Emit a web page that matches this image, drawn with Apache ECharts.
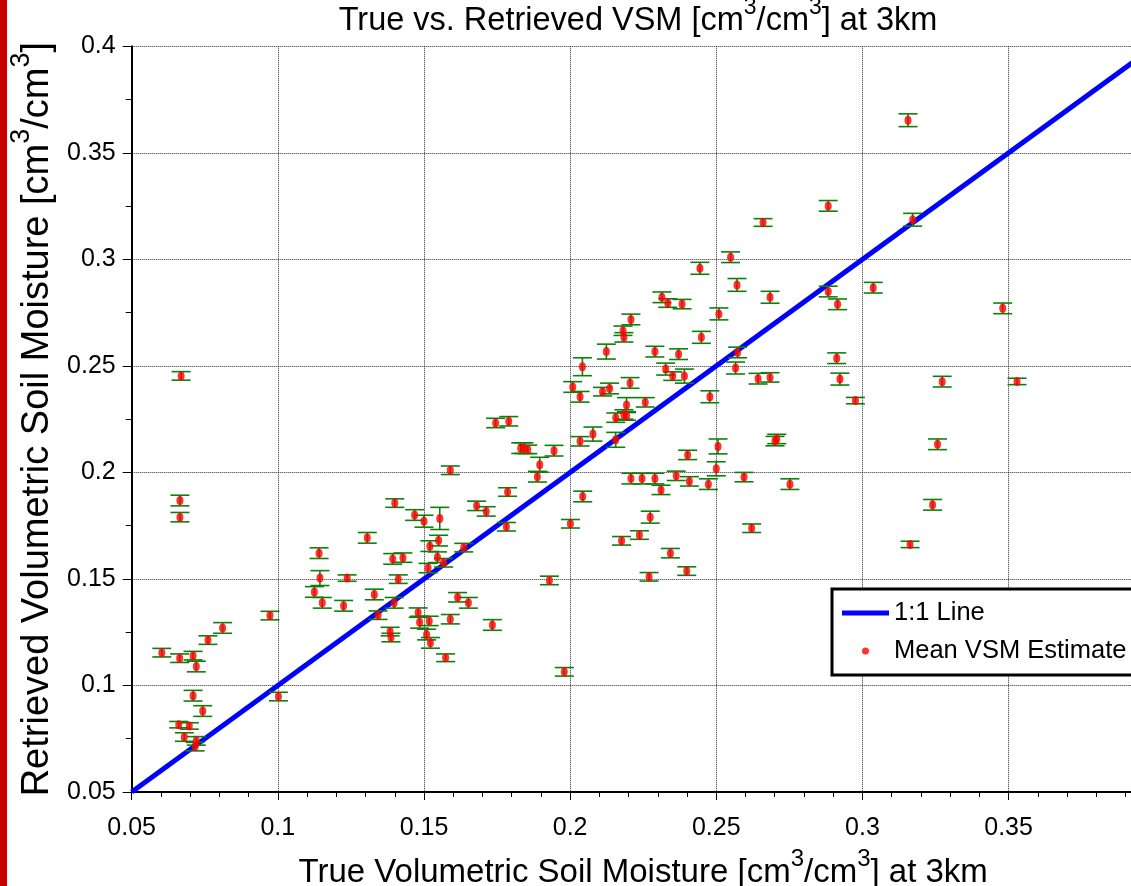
<!DOCTYPE html>
<html>
<head>
<meta charset="utf-8">
<script src="https://cdn.jsdelivr.net/npm/echarts@6/dist/echarts.min.js"></script>
<style>
  html, body { margin: 0; padding: 0; background: #fff; overflow: hidden; }
  #chart { width: 1131px; height: 886px; }
</style>
</head>
<body>
<div id="chart"></div>
<script>
// ---- data ----
const trueVSM = [
  0.0669, 0.0665, 0.0665, 0.0603, 0.0664, 0.0710, 0.0721, 0.0761, 0.0811, 0.0973,
  0.0710, 0.0743, 0.0661, 0.0697, 0.0680, 0.0721, 0.0717, 0.1002, 0.1141, 0.1144,
  0.1237, 0.1125, 0.1152, 0.1225, 0.1306, 0.1330, 0.1343, 0.1393, 0.1428, 0.1398,
  0.1412, 0.1384, 0.1387, 0.1400, 0.1468, 0.1500, 0.1554, 0.1520, 0.1550, 0.1546,
  0.1514, 0.1567, 0.1636, 0.1615, 0.1652, 0.1480, 0.1485, 0.1518, 0.1509, 0.1522,
  0.1574, 0.1590, 0.1734, 0.1590, 0.1680, 0.1713, 0.1745, 0.1790, 0.1786, 0.1782,
  0.1831, 0.1842, 0.1855, 0.1945, 0.1896, 0.1888, 0.1929, 0.1980, 0.2009, 0.2034,
  0.2111, 0.2135, 0.2205, 0.2193, 0.2257, 0.2156, 0.2184, 0.2193, 0.2034, 0.2078,
  0.2156, 0.2506, 0.2402, 0.2707, 0.2701, 0.2500, 0.2208, 0.2246, 0.2290, 0.2363,
  0.2408, 0.2473, 0.2311, 0.2595, 0.2752, 0.2043, 0.2001, 0.2274, 0.2237, 0.2176,
  0.2343, 0.2621, 0.2270, 0.2399, 0.2660, 0.2549, 0.2444, 0.2571, 0.2684, 0.2314,
  0.2334, 0.2383, 0.2509, 0.2208, 0.2181, 0.2184, 0.2449, 0.2124, 0.2290, 0.2371,
  0.2042, 0.2573, 0.2566, 0.2327, 0.2351, 0.2391, 0.2643, 0.2684, 0.2478, 0.3156,
  0.2883, 0.3172, 0.2883, 0.2915, 0.3037, 0.3480, 0.2912, 0.2923, 0.2976, 0.3273,
  0.3529, 0.3257, 0.3240, 0.3163
];
const retrievedVSM = [
  0.2453, 0.1868, 0.1790, 0.1154, 0.1128, 0.1140, 0.1089, 0.1213, 0.1270, 0.1328,
  0.0952, 0.0880, 0.0816, 0.0810, 0.0758, 0.0740, 0.0713, 0.0948, 0.1621, 0.1504,
  0.1504, 0.1439, 0.1388, 0.1374, 0.1693, 0.1427, 0.1330, 0.1594, 0.1600, 0.1388,
  0.1499, 0.1253, 0.1225, 0.1856, 0.1800, 0.1771, 0.1784, 0.1654, 0.1680, 0.1602,
  0.1551, 0.1576, 0.1647, 0.1414, 0.1388, 0.1342, 0.1297, 0.1303, 0.1239, 0.1200,
  0.1130, 0.1311, 0.1284, 0.2010, 0.1843, 0.1817, 0.2232, 0.2240, 0.1908, 0.1745,
  0.2114, 0.2114, 0.2108, 0.2102, 0.2036, 0.1980, 0.1493, 0.1064, 0.2401, 0.2355,
  0.2379, 0.2394, 0.2420, 0.2316, 0.2329, 0.2257, 0.2272, 0.2265, 0.2146, 0.2180,
  0.2153, 0.2122, 0.2082, 0.2157, 0.2147, 0.2017, 0.1971, 0.1971, 0.1971, 0.1984,
  0.1958, 0.1945, 0.1918, 0.1978, 0.1945, 0.1887, 0.1759, 0.1790, 0.1706, 0.1679,
  0.1621, 0.1738, 0.1510, 0.1537, 0.3173, 0.3010, 0.2958, 0.2880, 0.2822, 0.2822,
  0.2795, 0.2790, 0.2744, 0.2718, 0.2665, 0.2634, 0.2634, 0.2567, 0.2567, 0.2555,
  0.2496, 0.2563, 0.2490, 0.2485, 0.2452, 0.2452, 0.2440, 0.2446, 0.2355, 0.3653,
  0.3251, 0.3186, 0.2849, 0.2789, 0.2867, 0.2770, 0.2536, 0.2438, 0.2337, 0.2426,
  0.2427, 0.2132, 0.1848, 0.1662
];
const errorHalf = [
  0.0020, 0.0025, 0.0022, 0.0020, 0.0020, 0.0020, 0.0025, 0.0020, 0.0025, 0.0020,
  0.0025, 0.0025, 0.0015, 0.0015, 0.0020, 0.0020, 0.0020, 0.0020, 0.0025, 0.0035,
  0.0015, 0.0025, 0.0025, 0.0025, 0.0025, 0.0025, 0.0020, 0.0025, 0.0022, 0.0025,
  0.0020, 0.0020, 0.0020, 0.0020, 0.0025, 0.0028, 0.0052, 0.0025, 0.0025, 0.0025,
  0.0022, 0.0020, 0.0020, 0.0022, 0.0025, 0.0022, 0.0028, 0.0022, 0.0025, 0.0025,
  0.0018, 0.0022, 0.0025, 0.0020, 0.0022, 0.0022, 0.0022, 0.0022, 0.0020, 0.0020,
  0.0025, 0.0025, 0.0020, 0.0025, 0.0035, 0.0025, 0.0020, 0.0020, 0.0025, 0.0025,
  0.0020, 0.0025, 0.0025, 0.0035, 0.0022, 0.0022, 0.0022, 0.0020, 0.0022, 0.0033,
  0.0035, 0.0035, 0.0022, 0.0022, 0.0022, 0.0033, 0.0025, 0.0025, 0.0025, 0.0022,
  0.0022, 0.0025, 0.0022, 0.0022, 0.0025, 0.0025, 0.0020, 0.0028, 0.0020, 0.0020,
  0.0022, 0.0020, 0.0020, 0.0020, 0.0018, 0.0025, 0.0028, 0.0030, 0.0028, 0.0025,
  0.0020, 0.0022, 0.0028, 0.0025, 0.0022, 0.0022, 0.0028, 0.0035, 0.0025, 0.0025,
  0.0042, 0.0025, 0.0028, 0.0028, 0.0020, 0.0033, 0.0025, 0.0022, 0.0028, 0.0030,
  0.0025, 0.0030, 0.0025, 0.0025, 0.0025, 0.0025, 0.0025, 0.0028, 0.0015, 0.0025,
  0.0015, 0.0025, 0.0025, 0.0015
];
const oneToOneX = [0.05, 0.40];
const xTickValues = [0.05, 0.1, 0.15, 0.2, 0.25, 0.3, 0.35];
const yTickValues = [0.05, 0.1, 0.15, 0.2, 0.25, 0.3, 0.35, 0.4];
const seriesNames = ['1:1 Line', 'Mean VSM Estimate'];

// ---- build ----
const FONT = '"Liberation Sans", Arial, Helvetica, sans-serif';

const pointData = trueVSM.map((x, i) => [x, retrievedVSM[i]]);
const errData = trueVSM.map((x, i) => [x, retrievedVSM[i], errorHalf[i]]);
const lineData = oneToOneX.map(v => [v, v]);

function fmtTick(v) {
  return String(Math.round(v * 100) / 100);
}

const chart = echarts.init(document.getElementById('chart'), null, { renderer: 'canvas' });

const supRich = (fs, supFs, lh) => ({
  n: { fontSize: fs, lineHeight: lh, verticalAlign: 'bottom', fontFamily: FONT, fontWeight: 'normal', color: '#000' },
  s: { fontSize: supFs, lineHeight: supFs, verticalAlign: 'top', fontFamily: FONT, fontWeight: 'normal', color: '#000' }
});

const option = {
  animation: false,
  backgroundColor: '#fff',
  title: {
    text: '{n|True vs. Retrieved VSM [cm}{s|3}{n|/cm}{s|3}{n|] at 3km}',
    left: 638,
    top: -4,
    padding: 0,
    textAlign: 'center',
    textStyle: { fontWeight: 'normal', rich: supRich(32.5, 23, 42) }
  },
  legend: {
    data: [
      { name: seriesNames[0], icon: 'path://M0,0 L47,0 L47,5 L0,5 Z' },
      { name: seriesNames[1], icon: 'circle' }
    ],
    orient: 'vertical',
    left: 832,
    top: 589,
    padding: [9, 60, 9, 10],
    itemGap: 8,
    itemWidth: 47,
    itemHeight: 7,
    borderColor: '#000',
    borderWidth: 3,
    borderRadius: 0,
    backgroundColor: '#fff',
    textStyle: { fontFamily: FONT, fontSize: 25.5, lineHeight: 30, color: '#000' },
    z: 10
  },
  grid: {
    left: 131.7,
    top: 46.3,
    width: 1023,
    bottom: 94,
    containLabel: false,
    outerBoundsMode: 'none',
    show: false
  },
  xAxis: {
    type: 'value',
    min: xTickValues[0],
    max: oneToOneX[1],
    interval: 0.05,
    name: '{n|True Volumetric Soil Moisture [cm}{s|3}{n|/cm}{s|3}{n|] at 3km}',
    nameLocation: 'middle',
    nameGap: 55,
    nameTextStyle: { rich: supRich(33, 24, 42) },
    axisLine: { show: true, onZero: false, lineStyle: { color: '#000', width: 2 } },
    axisTick: { show: true, inside: false, length: 8, lineStyle: { color: '#000', width: 1 } },
    minorTick: { show: true, splitNumber: 5, length: 5, lineStyle: { color: '#000', width: 1 } },
    axisLabel: {
      margin: 24, fontFamily: FONT, fontSize: 25, color: '#000',
      formatter: v => (xTickValues.some(t => Math.abs(t - v) < 1e-6) ? fmtTick(v) : '')
    },
    splitLine: { show: true, lineStyle: { color: '#2a2a2a', width: 1, type: [1, 1] } }
  },
  yAxis: {
    type: 'value',
    min: yTickValues[0],
    max: yTickValues[yTickValues.length - 1],
    interval: 0.05,
    name: '{n|Retrieved Volumetric Soil Moisture [cm}{s|3}{n|/cm}{s|3}{n|]}',
    nameLocation: 'middle',
    nameGap: 58,
    nameRotate: 90,
    nameTextStyle: { rich: supRich(38, 27, 48) },
    axisLine: { show: true, onZero: false, lineStyle: { color: '#000', width: 2 } },
    axisTick: { show: true, inside: false, length: 9, lineStyle: { color: '#000', width: 1 } },
    minorTick: { show: true, splitNumber: 2, length: 6, lineStyle: { color: '#000', width: 1 } },
    axisLabel: { margin: 16, fontFamily: FONT, fontSize: 25, color: '#000', formatter: v => fmtTick(v) },
    splitLine: { show: true, lineStyle: { color: '#2a2a2a', width: 1, type: [1, 1] } }
  },
  graphic: [{
    type: 'rect', left: 0, top: 0, z: 100,
    shape: { width: 7, height: 886 },
    style: { fill: '#c80000' }
  }],
  series: [
    {
      name: seriesNames[0],
      type: 'line',
      data: lineData,
      showSymbol: false,
      symbol: 'none',
      lineStyle: { color: '#0000ff', width: 5 },
      itemStyle: { color: '#0000ff' },
      z: 2,
      silent: true
    },
    {
      name: 'error',
      type: 'custom',
      data: errData,
      encode: { x: 0, y: 1 },
      z: 3,
      silent: true,
      renderItem: (params, api) => {
        const x = api.value(0), y = api.value(1), e = api.value(2);
        const top = api.coord([x, y + e]);
        const bot = api.coord([x, y - e]);
        const hw = 9.5;
        const st = { stroke: '#0a820a', lineWidth: 1.6 };
        return {
          type: 'group',
          children: [
            { type: 'line', shape: { x1: top[0], y1: top[1], x2: bot[0], y2: bot[1] }, style: st },
            { type: 'line', shape: { x1: top[0] - hw, y1: top[1], x2: top[0] + hw, y2: top[1] }, style: st },
            { type: 'line', shape: { x1: bot[0] - hw, y1: bot[1], x2: bot[0] + hw, y2: bot[1] }, style: st }
          ]
        };
      }
    },
    {
      name: seriesNames[1],
      type: 'scatter',
      data: pointData,
      symbol: 'circle',
      symbolSize: [7, 9],
      itemStyle: { color: '#ff0000' },
      z: 4
    }
  ]
};
chart.setOption(option);
</script>
</body>
</html>
